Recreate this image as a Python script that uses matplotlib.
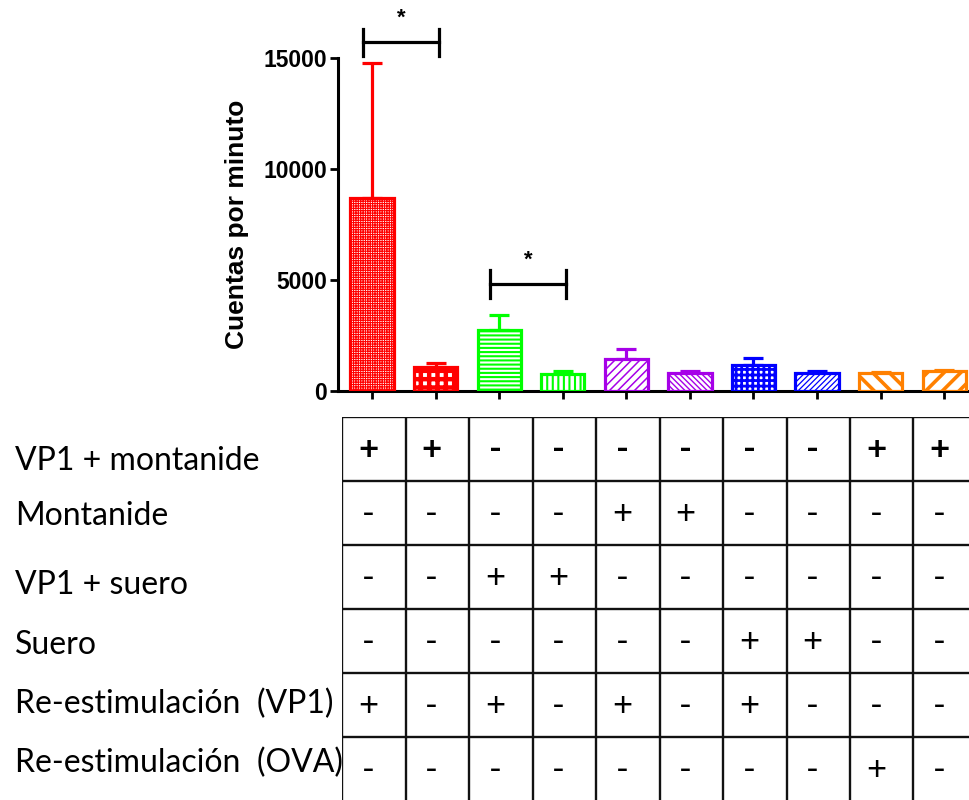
import matplotlib
matplotlib.use("Agg")
import matplotlib.pyplot as plt

# bar data (cuentas por minuto)
group_values = [8690, 1100, 2770, 755, 1430, 830, 1150, 830, 800, 880]
group_errors = [6090, 150, 670, 155, 450, 90, 330, 80, 40, 50]
bar_colors = ['#FF0000', '#FF0000', '#00FF00', '#00FF00', '#A600E8',
              '#A600E8', '#0000FF', '#0000FF', '#FF8000', '#FF8000']
bar_hatches = ['+' * 7, '++', '----', '|||', '////', '\\' * 6,
               '+++', '/' * 6, '\\\\', '//']
hatch_widths = [0.8, 3.2, 1.5, 1.5, 1.1, 1.0, 2.0, 0.9, 2.6, 2.6]

yticks = [0, 5000, 10000, 15000]

# significance brackets: (left bar, right bar, height)
sig_left = [0, 2]
sig_right = [1, 3]
sig_height = [15700, 4820]

# treatment table
row_labels = ['VP1 + montanide', 'Montanide', 'VP1 + suero', 'Suero',
              'Re-estimulación  (VP1)', 'Re-estimulación  (OVA)']
table_rows = [
    ['+', '+', '-', '-', '-', '-', '-', '-', '+', '+'],
    ['-', '-', '-', '-', '+', '+', '-', '-', '-', '-'],
    ['-', '-', '+', '+', '-', '-', '-', '-', '-', '-'],
    ['-', '-', '-', '-', '-', '-', '+', '+', '-', '-'],
    ['+', '-', '+', '-', '+', '-', '+', '-', '-', '-'],
    ['-', '-', '-', '-', '-', '-', '-', '-', '+', '-'],
]

W, H = 969, 800


def px_rect(x0, y0, x1, y1):
    return [x0 / W, 1 - y1 / H, (x1 - x0) / W, (y1 - y0) / H]


fig = plt.figure(figsize=(W / 100, H / 100), dpi=100)

# ---- bar chart ----
ax = fig.add_axes(px_rect(338, 58, 969, 391))
n = len(group_values)
xs = list(range(n))
for i in xs:
    with plt.rc_context({'hatch.linewidth': hatch_widths[i]}):
        b = ax.bar(i, group_values[i], width=0.68, facecolor='white',
                   edgecolor=bar_colors[i], linewidth=2.3,
                   hatch=bar_hatches[i], zorder=3)
    for p in b:
        if hasattr(p, 'set_hatch_linewidth'):
            p.set_hatch_linewidth(hatch_widths[i])
    ax.errorbar(i, group_values[i], yerr=[[0], [group_errors[i]]], fmt='none',
                ecolor=bar_colors[i], elinewidth=2.3, capsize=7.5,
                capthick=2.3, zorder=2)

for a, b2, h in zip(sig_left, sig_right, sig_height):
    xa, xb = a - 0.14, b2 + 0.05
    ax.plot([xa, xb], [h, h], color='black', lw=2.3, clip_on=False)
    ax.plot([xa, xa], [h - 620, h + 620], color='black', lw=2.3, clip_on=False)
    ax.plot([xb, xb], [h - 620, h + 620], color='black', lw=2.3, clip_on=False)
    ax.text((xa + xb) / 2, h + 600, '*', ha='center', va='bottom',
            fontsize=16, fontweight='bold', family='Liberation Sans',
            clip_on=False)

ax.set_xlim(-0.535, 9.39)
ax.set_ylim(0, 15000)
ax.set_yticks(yticks)
ax.set_yticklabels([str(t) for t in yticks], fontsize=16.5, fontweight='bold',
                   family='Liberation Sans')
ax.set_xticks(xs)
ax.set_xticklabels([])
ax.tick_params(axis='both', length=6, width=2, direction='out')
ax.tick_params(axis='y', pad=2)
for s in ['top', 'right']:
    ax.spines[s].set_visible(False)
for s in ['left', 'bottom']:
    ax.spines[s].set_linewidth(2.2)
ax.set_ylabel('Cuentas por minuto', fontsize=19, fontweight='bold',
              family='Liberation Sans', labelpad=10)
ax.patch.set_alpha(0)

# ---- treatment table ----
tab = fig.add_axes(px_rect(342, 417, 969, 800))
tab.set_xlim(0, (969 - 342) / 63.5)
tab.set_ylim((800 - 417) / 64, 0)
tab.axis('off')
for c in range(n + 1):
    tab.axvline(c, color='#111111', lw=1.7)
for r in range(len(row_labels)):
    tab.axhline(r, color='#111111', lw=1.7)

for r, row in enumerate(table_rows):
    for c, sign in enumerate(row):
        tab.text(c + 0.41, r + 0.52, sign, ha='center', va='center',
                 fontsize=25, family='Lato',
                 fontweight='bold' if r == 0 else 'normal')

label_baselines = [470, 525, 594, 654, 713, 772]
for lab, yb in zip(row_labels, label_baselines):
    fig.text(15 / W, 1 - yb / H, lab, ha='left', va='baseline',
             fontsize=23, family='Lato')

fig.savefig('out.png', dpi=100)
